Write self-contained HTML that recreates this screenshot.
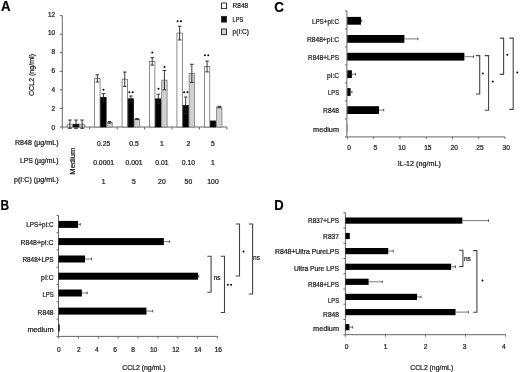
<!DOCTYPE html>
<html><head><meta charset="utf-8"><style>
html,body{margin:0;padding:0;background:#fff;width:520px;height:372px;overflow:hidden}
svg{display:block}
text{font-family:"Liberation Sans",sans-serif;stroke:#1c1c1c;stroke-width:0.24px}
svg{filter:grayscale(1)}
</style></head><body>
<svg width="520" height="372" viewBox="0 0 520 372">
<rect width="520" height="372" fill="#fff"/>
<text x="1.00" y="11.20" font-size="14" text-anchor="start" font-weight="bold" fill="#000" textLength="9.6" lengthAdjust="spacingAndGlyphs">A</text>
<line x1="62.30" y1="15.60" x2="62.30" y2="127.00" stroke="#666666" stroke-width="1"/>
<line x1="59.80" y1="127.00" x2="62.30" y2="127.00" stroke="#666666" stroke-width="1"/>
<text x="55.00" y="129.50" font-size="6.4" text-anchor="end" font-weight="normal" fill="#1c1c1c">0</text>
<line x1="59.80" y1="108.44" x2="62.30" y2="108.44" stroke="#666666" stroke-width="1"/>
<text x="55.00" y="110.67" font-size="6.4" text-anchor="end" font-weight="normal" fill="#1c1c1c">2</text>
<line x1="59.80" y1="89.88" x2="62.30" y2="89.88" stroke="#666666" stroke-width="1"/>
<text x="55.00" y="91.84" font-size="6.4" text-anchor="end" font-weight="normal" fill="#1c1c1c">4</text>
<line x1="59.80" y1="71.32" x2="62.30" y2="71.32" stroke="#666666" stroke-width="1"/>
<text x="55.00" y="73.01" font-size="6.4" text-anchor="end" font-weight="normal" fill="#1c1c1c">6</text>
<line x1="59.80" y1="52.76" x2="62.30" y2="52.76" stroke="#666666" stroke-width="1"/>
<text x="55.00" y="54.18" font-size="6.4" text-anchor="end" font-weight="normal" fill="#1c1c1c">8</text>
<line x1="59.80" y1="34.20" x2="62.30" y2="34.20" stroke="#666666" stroke-width="1"/>
<text x="55.00" y="35.35" font-size="6.4" text-anchor="end" font-weight="normal" fill="#1c1c1c">10</text>
<line x1="59.80" y1="15.64" x2="62.30" y2="15.64" stroke="#666666" stroke-width="1"/>
<text x="55.00" y="16.52" font-size="6.4" text-anchor="end" font-weight="normal" fill="#1c1c1c">12</text>
<line x1="62.30" y1="127.00" x2="226.88" y2="127.00" stroke="#666666" stroke-width="1"/>
<line x1="62.30" y1="127.00" x2="62.30" y2="129.50" stroke="#666666" stroke-width="1"/>
<line x1="89.73" y1="127.00" x2="89.73" y2="129.50" stroke="#666666" stroke-width="1"/>
<line x1="117.16" y1="127.00" x2="117.16" y2="129.50" stroke="#666666" stroke-width="1"/>
<line x1="144.59" y1="127.00" x2="144.59" y2="129.50" stroke="#666666" stroke-width="1"/>
<line x1="172.02" y1="127.00" x2="172.02" y2="129.50" stroke="#666666" stroke-width="1"/>
<line x1="199.45" y1="127.00" x2="199.45" y2="129.50" stroke="#666666" stroke-width="1"/>
<line x1="226.88" y1="127.00" x2="226.88" y2="129.50" stroke="#666666" stroke-width="1"/>
<rect x="67.22" y="124.22" width="5.40" height="2.78" fill="#ffffff" stroke="#666" stroke-width="0.75"/>
<rect x="73.31" y="124.22" width="5.40" height="2.78" fill="#000000" stroke="#111" stroke-width="0.75"/>
<rect x="79.42" y="124.22" width="5.40" height="2.78" fill="#d0d0d0" stroke="#777" stroke-width="0.75"/>
<rect x="94.64" y="78.37" width="5.40" height="48.63" fill="#ffffff" stroke="#666" stroke-width="0.75"/>
<rect x="100.74" y="97.30" width="5.40" height="29.70" fill="#000000" stroke="#111" stroke-width="0.75"/>
<rect x="106.84" y="122.36" width="5.40" height="4.64" fill="#d0d0d0" stroke="#777" stroke-width="0.75"/>
<rect x="122.07" y="79.21" width="5.40" height="47.79" fill="#ffffff" stroke="#666" stroke-width="0.75"/>
<rect x="128.17" y="98.79" width="5.40" height="28.21" fill="#000000" stroke="#111" stroke-width="0.75"/>
<rect x="134.27" y="119.11" width="5.40" height="7.89" fill="#d0d0d0" stroke="#777" stroke-width="0.75"/>
<rect x="149.50" y="61.39" width="5.40" height="65.61" fill="#ffffff" stroke="#666" stroke-width="0.75"/>
<rect x="155.60" y="98.88" width="5.40" height="28.12" fill="#000000" stroke="#111" stroke-width="0.75"/>
<rect x="161.70" y="80.14" width="5.40" height="46.86" fill="#d0d0d0" stroke="#777" stroke-width="0.75"/>
<rect x="176.94" y="33.09" width="5.40" height="93.91" fill="#ffffff" stroke="#666" stroke-width="0.75"/>
<rect x="183.03" y="105.38" width="5.40" height="21.62" fill="#000000" stroke="#111" stroke-width="0.75"/>
<rect x="189.13" y="73.36" width="5.40" height="53.64" fill="#d0d0d0" stroke="#777" stroke-width="0.75"/>
<rect x="204.37" y="66.49" width="5.40" height="60.51" fill="#ffffff" stroke="#666" stroke-width="0.75"/>
<rect x="210.47" y="120.97" width="5.40" height="6.03" fill="#000000" stroke="#111" stroke-width="0.75"/>
<rect x="216.56" y="107.05" width="5.40" height="19.95" fill="#d0d0d0" stroke="#777" stroke-width="0.75"/>
<line x1="69.92" y1="120.04" x2="69.92" y2="128.39" stroke="#222" stroke-width="0.9"/>
<line x1="68.12" y1="120.04" x2="71.72" y2="120.04" stroke="#222" stroke-width="0.9"/>
<line x1="68.12" y1="128.39" x2="71.72" y2="128.39" stroke="#222" stroke-width="0.9"/>
<line x1="76.02" y1="120.04" x2="76.02" y2="128.39" stroke="#222" stroke-width="0.9"/>
<line x1="74.22" y1="120.04" x2="77.81" y2="120.04" stroke="#222" stroke-width="0.9"/>
<line x1="74.22" y1="128.39" x2="77.81" y2="128.39" stroke="#222" stroke-width="0.9"/>
<line x1="82.12" y1="120.04" x2="82.12" y2="128.39" stroke="#222" stroke-width="0.9"/>
<line x1="80.32" y1="120.04" x2="83.92" y2="120.04" stroke="#222" stroke-width="0.9"/>
<line x1="80.32" y1="128.39" x2="83.92" y2="128.39" stroke="#222" stroke-width="0.9"/>
<line x1="97.34" y1="74.75" x2="97.34" y2="81.99" stroke="#222" stroke-width="0.9"/>
<line x1="95.54" y1="74.75" x2="99.14" y2="74.75" stroke="#222" stroke-width="0.9"/>
<line x1="95.54" y1="81.99" x2="99.14" y2="81.99" stroke="#222" stroke-width="0.9"/>
<line x1="103.44" y1="93.59" x2="103.44" y2="101.02" stroke="#222" stroke-width="0.9"/>
<line x1="101.64" y1="93.59" x2="105.24" y2="93.59" stroke="#222" stroke-width="0.9"/>
<line x1="101.64" y1="101.02" x2="105.24" y2="101.02" stroke="#222" stroke-width="0.9"/>
<line x1="109.54" y1="121.62" x2="109.54" y2="123.10" stroke="#222" stroke-width="0.9"/>
<line x1="107.74" y1="121.62" x2="111.34" y2="121.62" stroke="#222" stroke-width="0.9"/>
<line x1="107.74" y1="123.10" x2="111.34" y2="123.10" stroke="#222" stroke-width="0.9"/>
<line x1="124.77" y1="72.06" x2="124.77" y2="86.35" stroke="#222" stroke-width="0.9"/>
<line x1="122.97" y1="72.06" x2="126.57" y2="72.06" stroke="#222" stroke-width="0.9"/>
<line x1="122.97" y1="86.35" x2="126.57" y2="86.35" stroke="#222" stroke-width="0.9"/>
<line x1="130.88" y1="96.00" x2="130.88" y2="101.57" stroke="#222" stroke-width="0.9"/>
<line x1="129.07" y1="96.00" x2="132.68" y2="96.00" stroke="#222" stroke-width="0.9"/>
<line x1="129.07" y1="101.57" x2="132.68" y2="101.57" stroke="#222" stroke-width="0.9"/>
<line x1="136.97" y1="118.65" x2="136.97" y2="119.58" stroke="#222" stroke-width="0.9"/>
<line x1="135.17" y1="118.65" x2="138.78" y2="118.65" stroke="#222" stroke-width="0.9"/>
<line x1="135.17" y1="119.58" x2="138.78" y2="119.58" stroke="#222" stroke-width="0.9"/>
<line x1="152.21" y1="57.68" x2="152.21" y2="65.10" stroke="#222" stroke-width="0.9"/>
<line x1="150.41" y1="57.68" x2="154.01" y2="57.68" stroke="#222" stroke-width="0.9"/>
<line x1="150.41" y1="65.10" x2="154.01" y2="65.10" stroke="#222" stroke-width="0.9"/>
<line x1="158.31" y1="94.24" x2="158.31" y2="103.52" stroke="#222" stroke-width="0.9"/>
<line x1="156.50" y1="94.24" x2="160.11" y2="94.24" stroke="#222" stroke-width="0.9"/>
<line x1="156.50" y1="103.52" x2="160.11" y2="103.52" stroke="#222" stroke-width="0.9"/>
<line x1="164.41" y1="70.48" x2="164.41" y2="89.79" stroke="#222" stroke-width="0.9"/>
<line x1="162.60" y1="70.48" x2="166.21" y2="70.48" stroke="#222" stroke-width="0.9"/>
<line x1="162.60" y1="89.79" x2="166.21" y2="89.79" stroke="#222" stroke-width="0.9"/>
<line x1="179.64" y1="26.22" x2="179.64" y2="39.95" stroke="#222" stroke-width="0.9"/>
<line x1="177.84" y1="26.22" x2="181.44" y2="26.22" stroke="#222" stroke-width="0.9"/>
<line x1="177.84" y1="39.95" x2="181.44" y2="39.95" stroke="#222" stroke-width="0.9"/>
<line x1="185.74" y1="97.03" x2="185.74" y2="113.73" stroke="#222" stroke-width="0.9"/>
<line x1="183.94" y1="97.03" x2="187.54" y2="97.03" stroke="#222" stroke-width="0.9"/>
<line x1="183.94" y1="113.73" x2="187.54" y2="113.73" stroke="#222" stroke-width="0.9"/>
<line x1="191.84" y1="64.27" x2="191.84" y2="82.46" stroke="#222" stroke-width="0.9"/>
<line x1="190.03" y1="64.27" x2="193.64" y2="64.27" stroke="#222" stroke-width="0.9"/>
<line x1="190.03" y1="82.46" x2="193.64" y2="82.46" stroke="#222" stroke-width="0.9"/>
<line x1="207.07" y1="61.11" x2="207.07" y2="71.88" stroke="#222" stroke-width="0.9"/>
<line x1="205.27" y1="61.11" x2="208.87" y2="61.11" stroke="#222" stroke-width="0.9"/>
<line x1="205.27" y1="71.88" x2="208.87" y2="71.88" stroke="#222" stroke-width="0.9"/>
<line x1="219.27" y1="106.31" x2="219.27" y2="107.79" stroke="#222" stroke-width="0.9"/>
<line x1="217.47" y1="106.31" x2="221.07" y2="106.31" stroke="#222" stroke-width="0.9"/>
<line x1="217.47" y1="107.79" x2="221.07" y2="107.79" stroke="#222" stroke-width="0.9"/>
<circle cx="103.50" cy="89.75" r="1.0" fill="#000"/>
<circle cx="129.35" cy="92.25" r="1.0" fill="#000"/>
<circle cx="132.65" cy="92.25" r="1.0" fill="#000"/>
<circle cx="152.30" cy="52.50" r="1.0" fill="#000"/>
<circle cx="158.50" cy="88.75" r="1.0" fill="#000"/>
<circle cx="164.50" cy="67.10" r="1.0" fill="#000"/>
<circle cx="177.65" cy="21.20" r="1.0" fill="#000"/>
<circle cx="180.95" cy="21.20" r="1.0" fill="#000"/>
<circle cx="184.15" cy="92.25" r="1.0" fill="#000"/>
<circle cx="187.45" cy="92.25" r="1.0" fill="#000"/>
<circle cx="204.95" cy="55.25" r="1.0" fill="#000"/>
<circle cx="208.25" cy="55.25" r="1.0" fill="#000"/>
<rect x="221.50" y="3.00" width="5.00" height="5.60" fill="#fff" stroke="#333" stroke-width="1.0"/>
<text x="232.60" y="8.40" font-size="6.8" text-anchor="start" font-weight="normal" fill="#1c1c1c" textLength="15.5" lengthAdjust="spacingAndGlyphs">R848</text>
<rect x="221.50" y="16.50" width="5.00" height="5.60" fill="#000" stroke="#333" stroke-width="1.0"/>
<text x="232.60" y="21.90" font-size="6.8" text-anchor="start" font-weight="normal" fill="#1c1c1c" textLength="10.6" lengthAdjust="spacingAndGlyphs">LPS</text>
<rect x="221.50" y="29.00" width="5.00" height="5.60" fill="#d0d0d0" stroke="#333" stroke-width="1.0"/>
<text x="232.60" y="34.40" font-size="6.8" text-anchor="start" font-weight="normal" fill="#1c1c1c" textLength="16.3" lengthAdjust="spacingAndGlyphs">p(I:C)</text>
<text transform="translate(33.5,75) rotate(-90)" font-size="7.2" text-anchor="middle" fill="#1c1c1c" textLength="42" lengthAdjust="spacingAndGlyphs">CCL2 (ng/ml)</text>
<text x="58.50" y="145.20" font-size="7" text-anchor="end" font-weight="normal" fill="#1c1c1c" textLength="43.5" lengthAdjust="spacingAndGlyphs">R848 (µg/mL)</text>
<text x="58.50" y="163.00" font-size="7" text-anchor="end" font-weight="normal" fill="#1c1c1c" textLength="38.5" lengthAdjust="spacingAndGlyphs">LPS (µg/mL)</text>
<text x="58.50" y="182.40" font-size="7" text-anchor="end" font-weight="normal" fill="#1c1c1c" textLength="44.5" lengthAdjust="spacingAndGlyphs">p(I:C) (µg/mL)</text>
<text transform="translate(75.3,161.2) rotate(-90)" font-size="7" text-anchor="middle" fill="#1c1c1c" textLength="27" lengthAdjust="spacingAndGlyphs">Medium</text>
<text x="103.60" y="146.40" font-size="6.8" text-anchor="middle" font-weight="normal" fill="#1c1c1c">0.25</text>
<text x="134.00" y="146.40" font-size="6.8" text-anchor="middle" font-weight="normal" fill="#1c1c1c">0.5</text>
<text x="161.90" y="146.40" font-size="6.8" text-anchor="middle" font-weight="normal" fill="#1c1c1c">1</text>
<text x="188.40" y="146.40" font-size="6.8" text-anchor="middle" font-weight="normal" fill="#1c1c1c">2</text>
<text x="213.00" y="146.40" font-size="6.8" text-anchor="middle" font-weight="normal" fill="#1c1c1c">5</text>
<text x="103.60" y="164.90" font-size="6.8" text-anchor="middle" font-weight="normal" fill="#1c1c1c">0.0001</text>
<text x="134.00" y="164.90" font-size="6.8" text-anchor="middle" font-weight="normal" fill="#1c1c1c">0.001</text>
<text x="161.90" y="164.90" font-size="6.8" text-anchor="middle" font-weight="normal" fill="#1c1c1c">0.01</text>
<text x="188.40" y="164.90" font-size="6.8" text-anchor="middle" font-weight="normal" fill="#1c1c1c">0.10</text>
<text x="213.00" y="164.90" font-size="6.8" text-anchor="middle" font-weight="normal" fill="#1c1c1c">1</text>
<text x="103.60" y="183.70" font-size="6.8" text-anchor="middle" font-weight="normal" fill="#1c1c1c">1</text>
<text x="134.00" y="183.70" font-size="6.8" text-anchor="middle" font-weight="normal" fill="#1c1c1c">5</text>
<text x="161.90" y="183.70" font-size="6.8" text-anchor="middle" font-weight="normal" fill="#1c1c1c">20</text>
<text x="188.40" y="183.70" font-size="6.8" text-anchor="middle" font-weight="normal" fill="#1c1c1c">50</text>
<text x="213.00" y="183.70" font-size="6.8" text-anchor="middle" font-weight="normal" fill="#1c1c1c">100</text>
<text x="0.50" y="210.00" font-size="14" text-anchor="start" font-weight="bold" fill="#000" textLength="8.6" lengthAdjust="spacingAndGlyphs">B</text>
<line x1="58.50" y1="215.40" x2="58.50" y2="336.40" stroke="#666666" stroke-width="1"/>
<line x1="56.50" y1="215.40" x2="58.50" y2="215.40" stroke="#666666" stroke-width="1"/>
<line x1="56.50" y1="232.69" x2="58.50" y2="232.69" stroke="#666666" stroke-width="1"/>
<line x1="56.50" y1="249.97" x2="58.50" y2="249.97" stroke="#666666" stroke-width="1"/>
<line x1="56.50" y1="267.26" x2="58.50" y2="267.26" stroke="#666666" stroke-width="1"/>
<line x1="56.50" y1="284.54" x2="58.50" y2="284.54" stroke="#666666" stroke-width="1"/>
<line x1="56.50" y1="301.83" x2="58.50" y2="301.83" stroke="#666666" stroke-width="1"/>
<line x1="56.50" y1="319.11" x2="58.50" y2="319.11" stroke="#666666" stroke-width="1"/>
<line x1="56.50" y1="336.40" x2="58.50" y2="336.40" stroke="#666666" stroke-width="1"/>
<line x1="58.50" y1="336.40" x2="217.54" y2="336.40" stroke="#666666" stroke-width="1"/>
<line x1="58.50" y1="336.40" x2="58.50" y2="338.40" stroke="#666666" stroke-width="1"/>
<line x1="78.38" y1="336.40" x2="78.38" y2="338.40" stroke="#666666" stroke-width="1"/>
<line x1="98.26" y1="336.40" x2="98.26" y2="338.40" stroke="#666666" stroke-width="1"/>
<line x1="118.14" y1="336.40" x2="118.14" y2="338.40" stroke="#666666" stroke-width="1"/>
<line x1="138.02" y1="336.40" x2="138.02" y2="338.40" stroke="#666666" stroke-width="1"/>
<line x1="157.90" y1="336.40" x2="157.90" y2="338.40" stroke="#666666" stroke-width="1"/>
<line x1="177.78" y1="336.40" x2="177.78" y2="338.40" stroke="#666666" stroke-width="1"/>
<line x1="197.66" y1="336.40" x2="197.66" y2="338.40" stroke="#666666" stroke-width="1"/>
<line x1="217.54" y1="336.40" x2="217.54" y2="338.40" stroke="#666666" stroke-width="1"/>
<text x="58.75" y="351.80" font-size="6.6" text-anchor="middle" font-weight="normal" fill="#1c1c1c">0</text>
<text x="78.75" y="351.80" font-size="6.6" text-anchor="middle" font-weight="normal" fill="#1c1c1c">2</text>
<text x="96.90" y="351.80" font-size="6.6" text-anchor="middle" font-weight="normal" fill="#1c1c1c">4</text>
<text x="115.10" y="351.80" font-size="6.6" text-anchor="middle" font-weight="normal" fill="#1c1c1c">6</text>
<text x="133.20" y="351.80" font-size="6.6" text-anchor="middle" font-weight="normal" fill="#1c1c1c">8</text>
<text x="153.60" y="351.80" font-size="6.6" text-anchor="middle" font-weight="normal" fill="#1c1c1c">10</text>
<text x="175.80" y="351.80" font-size="6.6" text-anchor="middle" font-weight="normal" fill="#1c1c1c">12</text>
<text x="197.80" y="351.80" font-size="6.6" text-anchor="middle" font-weight="normal" fill="#1c1c1c">14</text>
<text x="218.30" y="351.80" font-size="6.6" text-anchor="middle" font-weight="normal" fill="#1c1c1c">16</text>
<text x="122.20" y="369.50" font-size="7" text-anchor="start" font-weight="normal" fill="#1c1c1c" textLength="43.3" lengthAdjust="spacingAndGlyphs">CCL2 (ng/mL)</text>
<text x="53.60" y="227.30" font-size="7.0" text-anchor="end" font-weight="normal" fill="#1c1c1c" textLength="27.3" lengthAdjust="spacingAndGlyphs">LPS+pI:C</text>
<rect x="58.50" y="220.90" width="19.58" height="7.00" fill="#000"/>
<line x1="78.08" y1="224.40" x2="80.27" y2="224.40" stroke="#555" stroke-width="0.8"/>
<line x1="80.27" y1="223.10" x2="80.27" y2="225.70" stroke="#333" stroke-width="0.8"/>
<text x="53.60" y="244.80" font-size="7.0" text-anchor="end" font-weight="normal" fill="#1c1c1c" textLength="33.1" lengthAdjust="spacingAndGlyphs">R848+pI:C</text>
<rect x="58.50" y="238.10" width="105.36" height="7.00" fill="#000"/>
<line x1="163.86" y1="241.60" x2="169.63" y2="241.60" stroke="#555" stroke-width="0.8"/>
<line x1="169.63" y1="240.30" x2="169.63" y2="242.90" stroke="#333" stroke-width="0.8"/>
<text x="53.60" y="261.90" font-size="7.0" text-anchor="end" font-weight="normal" fill="#1c1c1c" textLength="31.2" lengthAdjust="spacingAndGlyphs">R848+LPS</text>
<rect x="58.50" y="255.50" width="26.54" height="7.00" fill="#000"/>
<line x1="85.04" y1="259.00" x2="91.50" y2="259.00" stroke="#555" stroke-width="0.8"/>
<line x1="91.50" y1="257.70" x2="91.50" y2="260.30" stroke="#333" stroke-width="0.8"/>
<text x="53.60" y="279.70" font-size="7.0" text-anchor="end" font-weight="normal" fill="#1c1c1c" textLength="12.5" lengthAdjust="spacingAndGlyphs">pI:C</text>
<rect x="58.50" y="272.70" width="139.56" height="7.00" fill="#000"/>
<line x1="198.06" y1="276.20" x2="198.85" y2="276.20" stroke="#555" stroke-width="0.8"/>
<line x1="198.85" y1="274.90" x2="198.85" y2="277.50" stroke="#333" stroke-width="0.8"/>
<text x="53.60" y="296.90" font-size="7.0" text-anchor="end" font-weight="normal" fill="#1c1c1c" textLength="11.2" lengthAdjust="spacingAndGlyphs">LPS</text>
<rect x="58.50" y="289.50" width="23.36" height="7.00" fill="#000"/>
<line x1="81.86" y1="293.00" x2="87.23" y2="293.00" stroke="#555" stroke-width="0.8"/>
<line x1="87.23" y1="291.70" x2="87.23" y2="294.30" stroke="#333" stroke-width="0.8"/>
<text x="53.60" y="314.70" font-size="7.0" text-anchor="end" font-weight="normal" fill="#1c1c1c" textLength="16.0" lengthAdjust="spacingAndGlyphs">R848</text>
<rect x="58.50" y="307.60" width="87.97" height="7.00" fill="#000"/>
<line x1="146.47" y1="311.10" x2="152.73" y2="311.10" stroke="#555" stroke-width="0.8"/>
<line x1="152.73" y1="309.80" x2="152.73" y2="312.40" stroke="#333" stroke-width="0.8"/>
<text x="53.60" y="331.90" font-size="7.0" text-anchor="end" font-weight="normal" fill="#1c1c1c" textLength="26.2" lengthAdjust="spacingAndGlyphs">medium</text>
<rect x="58.50" y="324.50" width="1.19" height="7.00" fill="#000"/>
<polyline points="207.30,256.30 211.10,256.30 211.10,292.30 207.30,292.30" fill="none" stroke="#444" stroke-width="1.1"/>
<text x="213.70" y="280.00" font-size="6.8" text-anchor="start" font-weight="normal" fill="#1c1c1c" textLength="6.9" lengthAdjust="spacingAndGlyphs">ns</text>
<polyline points="220.70,256.30 224.50,256.30 224.50,312.50 220.70,312.50" fill="none" stroke="#444" stroke-width="1.1"/>
<circle cx="227.90" cy="284.80" r="1.0" fill="#000"/>
<circle cx="231.20" cy="284.80" r="1.0" fill="#000"/>
<polyline points="235.70,224.00 239.50,224.00 239.50,276.00 235.70,276.00" fill="none" stroke="#444" stroke-width="1.1"/>
<circle cx="243.50" cy="251.50" r="1.0" fill="#000"/>
<polyline points="248.80,224.00 252.60,224.00 252.60,294.00 248.80,294.00" fill="none" stroke="#444" stroke-width="1.1"/>
<text x="253.00" y="260.20" font-size="6.8" text-anchor="start" font-weight="normal" fill="#1c1c1c" textLength="6.9" lengthAdjust="spacingAndGlyphs">ns</text>
<text x="274.30" y="11.90" font-size="14" text-anchor="start" font-weight="bold" fill="#000" textLength="9.7" lengthAdjust="spacingAndGlyphs">C</text>
<line x1="346.90" y1="11.00" x2="346.90" y2="136.90" stroke="#666666" stroke-width="1"/>
<line x1="344.90" y1="11.00" x2="346.90" y2="11.00" stroke="#666666" stroke-width="1"/>
<line x1="344.90" y1="28.99" x2="346.90" y2="28.99" stroke="#666666" stroke-width="1"/>
<line x1="344.90" y1="46.97" x2="346.90" y2="46.97" stroke="#666666" stroke-width="1"/>
<line x1="344.90" y1="64.96" x2="346.90" y2="64.96" stroke="#666666" stroke-width="1"/>
<line x1="344.90" y1="82.94" x2="346.90" y2="82.94" stroke="#666666" stroke-width="1"/>
<line x1="344.90" y1="100.93" x2="346.90" y2="100.93" stroke="#666666" stroke-width="1"/>
<line x1="344.90" y1="118.91" x2="346.90" y2="118.91" stroke="#666666" stroke-width="1"/>
<line x1="344.90" y1="136.90" x2="346.90" y2="136.90" stroke="#666666" stroke-width="1"/>
<line x1="346.90" y1="136.90" x2="505.01" y2="136.90" stroke="#666666" stroke-width="1"/>
<line x1="347.30" y1="136.90" x2="347.30" y2="138.90" stroke="#666666" stroke-width="1"/>
<line x1="373.59" y1="136.90" x2="373.59" y2="138.90" stroke="#666666" stroke-width="1"/>
<line x1="399.87" y1="136.90" x2="399.87" y2="138.90" stroke="#666666" stroke-width="1"/>
<line x1="426.15" y1="136.90" x2="426.15" y2="138.90" stroke="#666666" stroke-width="1"/>
<line x1="452.44" y1="136.90" x2="452.44" y2="138.90" stroke="#666666" stroke-width="1"/>
<line x1="478.73" y1="136.90" x2="478.73" y2="138.90" stroke="#666666" stroke-width="1"/>
<line x1="505.01" y1="136.90" x2="505.01" y2="138.90" stroke="#666666" stroke-width="1"/>
<text x="349.10" y="149.90" font-size="6.6" text-anchor="middle" font-weight="normal" fill="#1c1c1c">0</text>
<text x="375.30" y="149.90" font-size="6.6" text-anchor="middle" font-weight="normal" fill="#1c1c1c">5</text>
<text x="402.00" y="149.90" font-size="6.6" text-anchor="middle" font-weight="normal" fill="#1c1c1c">10</text>
<text x="427.80" y="149.90" font-size="6.6" text-anchor="middle" font-weight="normal" fill="#1c1c1c">15</text>
<text x="454.20" y="149.90" font-size="6.6" text-anchor="middle" font-weight="normal" fill="#1c1c1c">20</text>
<text x="480.00" y="149.90" font-size="6.6" text-anchor="middle" font-weight="normal" fill="#1c1c1c">25</text>
<text x="506.20" y="149.90" font-size="6.6" text-anchor="middle" font-weight="normal" fill="#1c1c1c">30</text>
<text x="397.70" y="166.30" font-size="7" text-anchor="start" font-weight="normal" fill="#1c1c1c" textLength="43.1" lengthAdjust="spacingAndGlyphs">IL-12 (ng/mL)</text>
<text x="339.00" y="23.80" font-size="7.0" text-anchor="end" font-weight="normal" fill="#1c1c1c" textLength="27.1" lengthAdjust="spacingAndGlyphs">LPS+pI:C</text>
<rect x="347.30" y="16.90" width="13.67" height="7.80" fill="#000"/>
<line x1="360.97" y1="20.80" x2="361.76" y2="20.80" stroke="#555" stroke-width="0.8"/>
<line x1="361.76" y1="19.50" x2="361.76" y2="22.10" stroke="#333" stroke-width="0.8"/>
<text x="339.00" y="41.90" font-size="7.0" text-anchor="end" font-weight="normal" fill="#1c1c1c" textLength="32.1" lengthAdjust="spacingAndGlyphs">R848+pI:C</text>
<rect x="347.30" y="35.00" width="57.09" height="7.80" fill="#000"/>
<line x1="404.39" y1="38.90" x2="417.85" y2="38.90" stroke="#555" stroke-width="0.8"/>
<line x1="417.85" y1="37.60" x2="417.85" y2="40.20" stroke="#333" stroke-width="0.8"/>
<text x="339.00" y="60.20" font-size="7.0" text-anchor="end" font-weight="normal" fill="#1c1c1c" textLength="30.9" lengthAdjust="spacingAndGlyphs">R848+LPS</text>
<rect x="347.30" y="52.80" width="117.07" height="7.80" fill="#000"/>
<line x1="464.37" y1="56.70" x2="473.47" y2="56.70" stroke="#555" stroke-width="0.8"/>
<line x1="473.47" y1="55.40" x2="473.47" y2="58.00" stroke="#333" stroke-width="0.8"/>
<text x="339.00" y="77.80" font-size="7.0" text-anchor="end" font-weight="normal" fill="#1c1c1c" textLength="12.1" lengthAdjust="spacingAndGlyphs">pI:C</text>
<rect x="347.30" y="70.30" width="4.57" height="7.80" fill="#000"/>
<line x1="351.87" y1="74.20" x2="355.55" y2="74.20" stroke="#555" stroke-width="0.8"/>
<line x1="355.55" y1="72.90" x2="355.55" y2="75.50" stroke="#333" stroke-width="0.8"/>
<text x="339.00" y="95.30" font-size="7.0" text-anchor="end" font-weight="normal" fill="#1c1c1c" textLength="10.9" lengthAdjust="spacingAndGlyphs">LPS</text>
<rect x="347.30" y="88.10" width="3.31" height="7.80" fill="#000"/>
<line x1="350.61" y1="92.00" x2="351.93" y2="92.00" stroke="#555" stroke-width="0.8"/>
<line x1="351.93" y1="90.70" x2="351.93" y2="93.30" stroke="#333" stroke-width="0.8"/>
<text x="339.00" y="113.10" font-size="7.0" text-anchor="end" font-weight="normal" fill="#1c1c1c" textLength="15.9" lengthAdjust="spacingAndGlyphs">R848</text>
<rect x="347.30" y="106.20" width="31.70" height="7.80" fill="#000"/>
<line x1="379.00" y1="110.10" x2="383.73" y2="110.10" stroke="#555" stroke-width="0.8"/>
<line x1="383.73" y1="108.80" x2="383.73" y2="111.40" stroke="#333" stroke-width="0.8"/>
<text x="339.00" y="131.50" font-size="7.0" text-anchor="end" font-weight="normal" fill="#1c1c1c" textLength="25.9" lengthAdjust="spacingAndGlyphs">medium</text>
<rect x="347.30" y="124.10" width="0.26" height="7.80" fill="#000"/>
<polyline points="475.90,55.60 479.70,55.60 479.70,94.00 475.90,94.00" fill="none" stroke="#444" stroke-width="1.1"/>
<circle cx="482.80" cy="73.50" r="1.0" fill="#000"/>
<polyline points="484.80,55.60 488.60,55.60 488.60,110.30 484.80,110.30" fill="none" stroke="#444" stroke-width="1.1"/>
<circle cx="492.80" cy="81.50" r="1.0" fill="#000"/>
<polyline points="499.80,38.10 503.60,38.10 503.60,74.40 499.80,74.40" fill="none" stroke="#444" stroke-width="1.1"/>
<circle cx="507.30" cy="54.80" r="1.0" fill="#000"/>
<polyline points="509.40,38.10 513.20,38.10 513.20,109.40 509.40,109.40" fill="none" stroke="#444" stroke-width="1.1"/>
<circle cx="517.30" cy="72.50" r="1.0" fill="#000"/>
<text x="274.30" y="210.10" font-size="14" text-anchor="start" font-weight="bold" fill="#000" textLength="9.4" lengthAdjust="spacingAndGlyphs">D</text>
<line x1="345.40" y1="212.75" x2="345.40" y2="334.70" stroke="#666666" stroke-width="1"/>
<line x1="343.40" y1="212.75" x2="345.40" y2="212.75" stroke="#666666" stroke-width="1"/>
<line x1="343.40" y1="227.99" x2="345.40" y2="227.99" stroke="#666666" stroke-width="1"/>
<line x1="343.40" y1="243.24" x2="345.40" y2="243.24" stroke="#666666" stroke-width="1"/>
<line x1="343.40" y1="258.48" x2="345.40" y2="258.48" stroke="#666666" stroke-width="1"/>
<line x1="343.40" y1="273.73" x2="345.40" y2="273.73" stroke="#666666" stroke-width="1"/>
<line x1="343.40" y1="288.97" x2="345.40" y2="288.97" stroke="#666666" stroke-width="1"/>
<line x1="343.40" y1="304.21" x2="345.40" y2="304.21" stroke="#666666" stroke-width="1"/>
<line x1="343.40" y1="319.46" x2="345.40" y2="319.46" stroke="#666666" stroke-width="1"/>
<line x1="343.40" y1="334.70" x2="345.40" y2="334.70" stroke="#666666" stroke-width="1"/>
<line x1="345.40" y1="334.70" x2="505.60" y2="334.70" stroke="#666666" stroke-width="1"/>
<line x1="345.40" y1="334.70" x2="345.40" y2="336.70" stroke="#666666" stroke-width="1"/>
<line x1="385.45" y1="334.70" x2="385.45" y2="336.70" stroke="#666666" stroke-width="1"/>
<line x1="425.50" y1="334.70" x2="425.50" y2="336.70" stroke="#666666" stroke-width="1"/>
<line x1="465.55" y1="334.70" x2="465.55" y2="336.70" stroke="#666666" stroke-width="1"/>
<line x1="505.60" y1="334.70" x2="505.60" y2="336.70" stroke="#666666" stroke-width="1"/>
<text x="346.70" y="349.00" font-size="6.6" text-anchor="middle" font-weight="normal" fill="#1c1c1c">0</text>
<text x="385.50" y="349.00" font-size="6.6" text-anchor="middle" font-weight="normal" fill="#1c1c1c">1</text>
<text x="425.50" y="349.00" font-size="6.6" text-anchor="middle" font-weight="normal" fill="#1c1c1c">2</text>
<text x="464.60" y="349.00" font-size="6.6" text-anchor="middle" font-weight="normal" fill="#1c1c1c">3</text>
<text x="503.80" y="349.00" font-size="6.6" text-anchor="middle" font-weight="normal" fill="#1c1c1c">4</text>
<text x="410.20" y="369.60" font-size="7" text-anchor="start" font-weight="normal" fill="#1c1c1c" textLength="43.0" lengthAdjust="spacingAndGlyphs">CCL2 (ng/mL)</text>
<text x="339.00" y="223.10" font-size="7.0" text-anchor="end" font-weight="normal" fill="#1c1c1c" textLength="30.9" lengthAdjust="spacingAndGlyphs">R837+LPS</text>
<rect x="345.40" y="217.50" width="116.95" height="6.20" fill="#000"/>
<line x1="462.35" y1="220.60" x2="488.58" y2="220.60" stroke="#555" stroke-width="0.8"/>
<line x1="488.58" y1="219.30" x2="488.58" y2="221.90" stroke="#333" stroke-width="0.8"/>
<text x="339.00" y="238.80" font-size="7.0" text-anchor="end" font-weight="normal" fill="#1c1c1c" textLength="15.9" lengthAdjust="spacingAndGlyphs">R837</text>
<rect x="345.40" y="232.90" width="4.41" height="6.20" fill="#000"/>
<text x="339.00" y="254.40" font-size="7.0" text-anchor="end" font-weight="normal" fill="#1c1c1c" textLength="64.0" lengthAdjust="spacingAndGlyphs">R848+Ultra PureLPS</text>
<rect x="345.40" y="248.00" width="42.85" height="6.20" fill="#000"/>
<line x1="388.25" y1="251.10" x2="393.26" y2="251.10" stroke="#555" stroke-width="0.8"/>
<line x1="393.26" y1="249.80" x2="393.26" y2="252.40" stroke="#333" stroke-width="0.8"/>
<text x="339.00" y="270.60" font-size="7.0" text-anchor="end" font-weight="normal" fill="#1c1c1c" textLength="45.0" lengthAdjust="spacingAndGlyphs">Ultra Pure LPS</text>
<rect x="345.40" y="263.70" width="105.73" height="6.20" fill="#000"/>
<line x1="451.13" y1="266.80" x2="455.54" y2="266.80" stroke="#555" stroke-width="0.8"/>
<line x1="455.54" y1="265.50" x2="455.54" y2="268.10" stroke="#333" stroke-width="0.8"/>
<text x="339.00" y="286.90" font-size="7.0" text-anchor="end" font-weight="normal" fill="#1c1c1c" textLength="30.9" lengthAdjust="spacingAndGlyphs">R848+LPS</text>
<rect x="345.40" y="278.70" width="23.23" height="6.20" fill="#000"/>
<line x1="368.63" y1="281.80" x2="382.25" y2="281.80" stroke="#555" stroke-width="0.8"/>
<line x1="382.25" y1="280.50" x2="382.25" y2="283.10" stroke="#333" stroke-width="0.8"/>
<text x="339.00" y="302.80" font-size="7.0" text-anchor="end" font-weight="normal" fill="#1c1c1c" textLength="10.9" lengthAdjust="spacingAndGlyphs">LPS</text>
<rect x="345.40" y="293.80" width="71.69" height="6.20" fill="#000"/>
<line x1="417.09" y1="296.90" x2="421.09" y2="296.90" stroke="#555" stroke-width="0.8"/>
<line x1="421.09" y1="295.60" x2="421.09" y2="298.20" stroke="#333" stroke-width="0.8"/>
<text x="339.00" y="316.90" font-size="7.0" text-anchor="end" font-weight="normal" fill="#1c1c1c" textLength="15.9" lengthAdjust="spacingAndGlyphs">R848</text>
<rect x="345.40" y="309.00" width="110.14" height="6.20" fill="#000"/>
<line x1="455.54" y1="312.10" x2="468.35" y2="312.10" stroke="#555" stroke-width="0.8"/>
<line x1="468.35" y1="310.80" x2="468.35" y2="313.40" stroke="#333" stroke-width="0.8"/>
<text x="339.00" y="330.60" font-size="7.0" text-anchor="end" font-weight="normal" fill="#1c1c1c" textLength="25.9" lengthAdjust="spacingAndGlyphs">medium</text>
<rect x="345.40" y="324.10" width="4.00" height="6.20" fill="#000"/>
<line x1="349.40" y1="327.20" x2="352.61" y2="327.20" stroke="#555" stroke-width="0.8"/>
<line x1="352.61" y1="325.90" x2="352.61" y2="328.50" stroke="#333" stroke-width="0.8"/>
<polyline points="459.10,250.30 462.90,250.30 462.90,266.50 459.10,266.50" fill="none" stroke="#444" stroke-width="1.1"/>
<text x="463.90" y="260.60" font-size="6.8" text-anchor="start" font-weight="normal" fill="#1c1c1c" textLength="6.9" lengthAdjust="spacingAndGlyphs">ns</text>
<polyline points="473.10,250.60 476.90,250.60 476.90,312.30 473.10,312.30" fill="none" stroke="#444" stroke-width="1.1"/>
<circle cx="482.50" cy="280.60" r="1.0" fill="#000"/>
</svg>
</body></html>
